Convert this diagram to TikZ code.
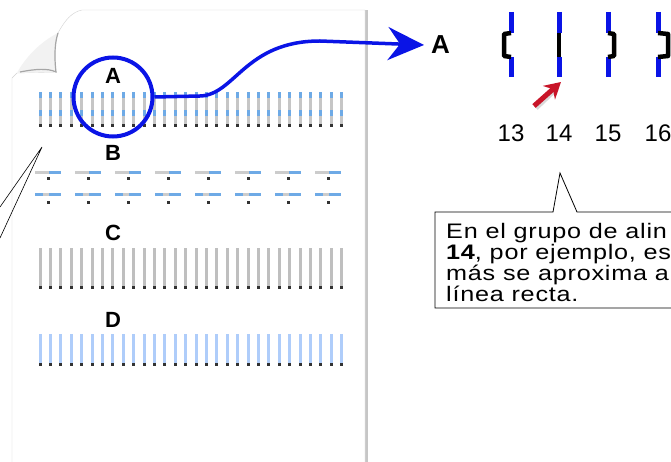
\documentclass[tikz,border=0pt]{standalone}
\usepackage{fontspec}
\setmainfont{Liberation Sans}
\usetikzlibrary{arrows.meta}
\definecolor{ringblue}{RGB}{10,20,230}
\definecolor{dashblue}{RGB}{110,170,230}
\definecolor{paleblue}{RGB}{175,205,250}
\definecolor{tipred}{RGB}{200,20,40}
\begin{document}
\begin{tikzpicture}[x=1pt,y=-1pt,
  rowlabel/.style={font=\fontsize{22}{22}\selectfont\bfseries,inner sep=0pt},
  numlabel/.style={font=\fontsize{24}{24}\selectfont,inner sep=0pt}]
  \useasboundingbox (0,0) rectangle (671,462);
  \fill[white] (0,0) rectangle (671,462);
  % sheet with curled corner
  \fill[gray!45] (364,10) rectangle (368,462);
  \draw[gray!35,fill=white] (12,470) -- (12,78) -- (17,73) -- (56,72) .. controls (54,55) and (55,42) .. (58,33) .. controls (65,20) and (72,12) .. (82,10) -- (365,10) -- (365,470);
  \fill[gray!10] (17,73) -- (56,72) .. controls (54,55) and (55,42) .. (58,33) .. controls (40,42) and (25,58) .. (17,73);
  \draw[gray!70,line width=1.2] (20,72) .. controls (35,69) and (48,68) .. (56,72) .. controls (54,55) and (55,42) .. (58,33);
  % pattern A
  \foreach \i in {0,...,29}{
    \fill[gray!45] (38.5+\i*10.4,92) rectangle ++(3,32);
    \fill[dashblue] (38.5+\i*10.4,92) rectangle ++(3,6);
    \fill[dashblue] (38.5+\i*10.4,110) rectangle ++(3,6);
    \fill[black!80] (38.5+\i*10.4,124) rectangle ++(3,3);
  }
  % pattern B
  \foreach \i in {0,...,7}{
    \fill[gray!40] (35+\i*40,171) rectangle ++(26,3);
    \fill[dashblue] (49+\i*40,171) rectangle ++(12,3);
    \fill[black!80] (47+\i*40,177) rectangle ++(2.5,3);
    \fill[gray!40] (35+\i*40,193) rectangle ++(26,3);
    \fill[dashblue] (35+\i*40,193) rectangle ++(8,3);
    \fill[dashblue] (49+\i*40,193) rectangle ++(12,3);
    \fill[black!80] (47+\i*40,201) rectangle ++(2.5,3);
  }
  % pattern C
  \foreach \i in {0,...,29}{
    \fill[gray!50] (38.5+\i*10.4,248) rectangle ++(3,38);
    \fill[black!80] (38.5+\i*10.4,286) rectangle ++(3,3);
  }
  % pattern D
  \foreach \i in {0,...,29}{
    \fill[paleblue] (38.5+\i*10.4,334) rectangle ++(3,29);
    \fill[black!80] (38.5+\i*10.4,363) rectangle ++(3,3);
  }
  \node[rowlabel] (labA) at (113,76) {A};
  \node[rowlabel] (labB) at (113,153) {B};
  \node[rowlabel] (labC) at (113,233) {C};
  \node[rowlabel] (labD) at (113,320) {D};
  % pointer lines
  \coordinate (lp) at (42,147);
  \coordinate (out1) at (0,207);
  \coordinate (out2) at (0,238);
  \draw[line width=0.6] (lp) -- (out1) (lp) -- (out2);
  % magnified view
  \node[draw=ringblue,line width=4,circle,minimum size=79] (ringA) at (113,97) {};
  \node[font=\fontsize{26}{26}\selectfont\bfseries,inner sep=1pt,anchor=west] (bigA) at (430,45) {A};
  \draw[ringblue,line width=3.5,-{Stealth[length=36,width=33,inset=12]}] (ringA.east) -- (200,96) .. controls (235,95) and (245,41) .. (320,41) -- ([xshift=-6]bigA.west);
  \foreach \x/\d [count=\k from 13] in {511/-7,559/0,608/6,658/10}{
    \draw[ringblue,line width=5] (\x,12) -- (\x,33) (\x,57) -- (\x,77);
    \draw[line width=4.5,line join=round] (\x,33) -- (\x+\d,34) -- (\x+\d,56) -- (\x,57);
    \node[numlabel] (n\k) at (\x,133) {\k};
  }
  \coordinate (redtail) at (534,106);
  \coordinate (redtip) at (561,82);
  \draw[gray!30,line width=5] ([shift={(2,2)}]redtail) -- ([shift={(-4,6)}]redtip);
  \draw[tipred,line width=5,-{Stealth[length=16,width=18]}] (redtail) -- (redtip);
  % callout
  \draw[line width=0.8] (680,212) -- (577,212) -- (560,173) -- (553,212) -- (435,212) -- (435,308) -- (680,308);
  \node[anchor=north west,inner sep=0pt,font=\fontsize{21}{18.5}\selectfont\addfontfeature{LetterSpace=3}] (note) at (446,223)
    {\scalebox{1.2}[1]{\begin{tabular}{@{}l@{}}En el grupo de alin\\\textbf{14}, por ejemplo, es\\más se aproxima a\\línea recta.\end{tabular}}};
\end{tikzpicture}
\end{document}
